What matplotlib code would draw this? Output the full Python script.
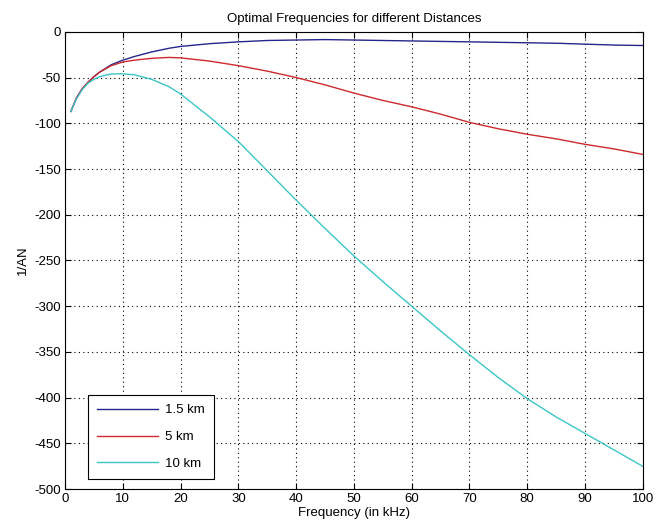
import numpy as np
import matplotlib
matplotlib.use("Agg")
import matplotlib.pyplot as plt

plt.rcParams['font.family'] = ['Liberation Sans', 'DejaVu Sans']
plt.rcParams['axes.unicode_minus'] = False

# values
freq_khz = [1, 2, 3, 4, 5, 6, 8, 10, 12, 15, 18, 20, 25, 30, 35, 40, 45, 50,
            55, 60, 65, 70, 75, 80, 85, 90, 95, 100]
an_1_5km = [-87, -72, -62, -55, -49, -44, -36, -31, -27, -22, -18, -16, -13, -11,
            -9.5, -9, -8.5, -9, -9.5, -10, -10.5, -11, -11.5, -12, -12.5, -13.5, -14.5, -15]
an_5km = [-87, -72, -62, -55, -49, -44, -37, -33, -31, -29, -28, -28.5, -32, -37,
          -43, -50, -58, -67, -75, -82, -90, -99, -106, -112, -117, -123, -128, -134]
an_10km = [-87, -73, -63, -56, -52, -49, -46, -46, -47, -52, -60, -68, -93, -120,
           -152, -184, -215, -245, -273, -300, -327, -353, -378, -401, -421, -439, -457, -475]

labels = ["1.5 km", "5 km", "10 km"]
colors = ["#25258c", "#cc2a2e", "#3cc6c6"]

fig = plt.figure(figsize=(6.64, 5.30), dpi=100)
ax = fig.add_axes([0.098, 0.077, 0.87, 0.863])

for ys, lab, c in zip([an_1_5km, an_5km, an_10km], labels, colors):
    ax.plot(freq_khz, ys, color=c, linewidth=1.0, label=lab)

ax.set_xlim(0, 100)
ax.set_ylim(-500, 0)
ax.set_xticks(np.arange(0, 101, 10))
ax.set_yticks(np.arange(-500, 1, 50))
ax.grid(True, color="black", linestyle=(0, (1, 3)), linewidth=0.8)
ax.tick_params(direction="in", top=True, right=True, labelsize=9.5, length=4, pad=3)
for s in ax.spines.values():
    s.set_linewidth(0.8)

ax.set_title("Optimal Frequencies for different Distances", fontsize=9.5, pad=7)
ax.set_xlabel("Frequency (in kHz)", fontsize=9.5, labelpad=1)
ax.set_ylabel("1/AN", fontsize=9.5, labelpad=4)

leg = ax.legend(loc="lower left", bbox_to_anchor=(0.04, 0.022), fontsize=9.5,
                fancybox=False, edgecolor="black", framealpha=1, borderaxespad=0,
                handlelength=4.6, handletextpad=0.5, labelspacing=1.1, borderpad=0.7)
leg.get_frame().set_linewidth(0.8)

fig.savefig("out.png", dpi=100)
